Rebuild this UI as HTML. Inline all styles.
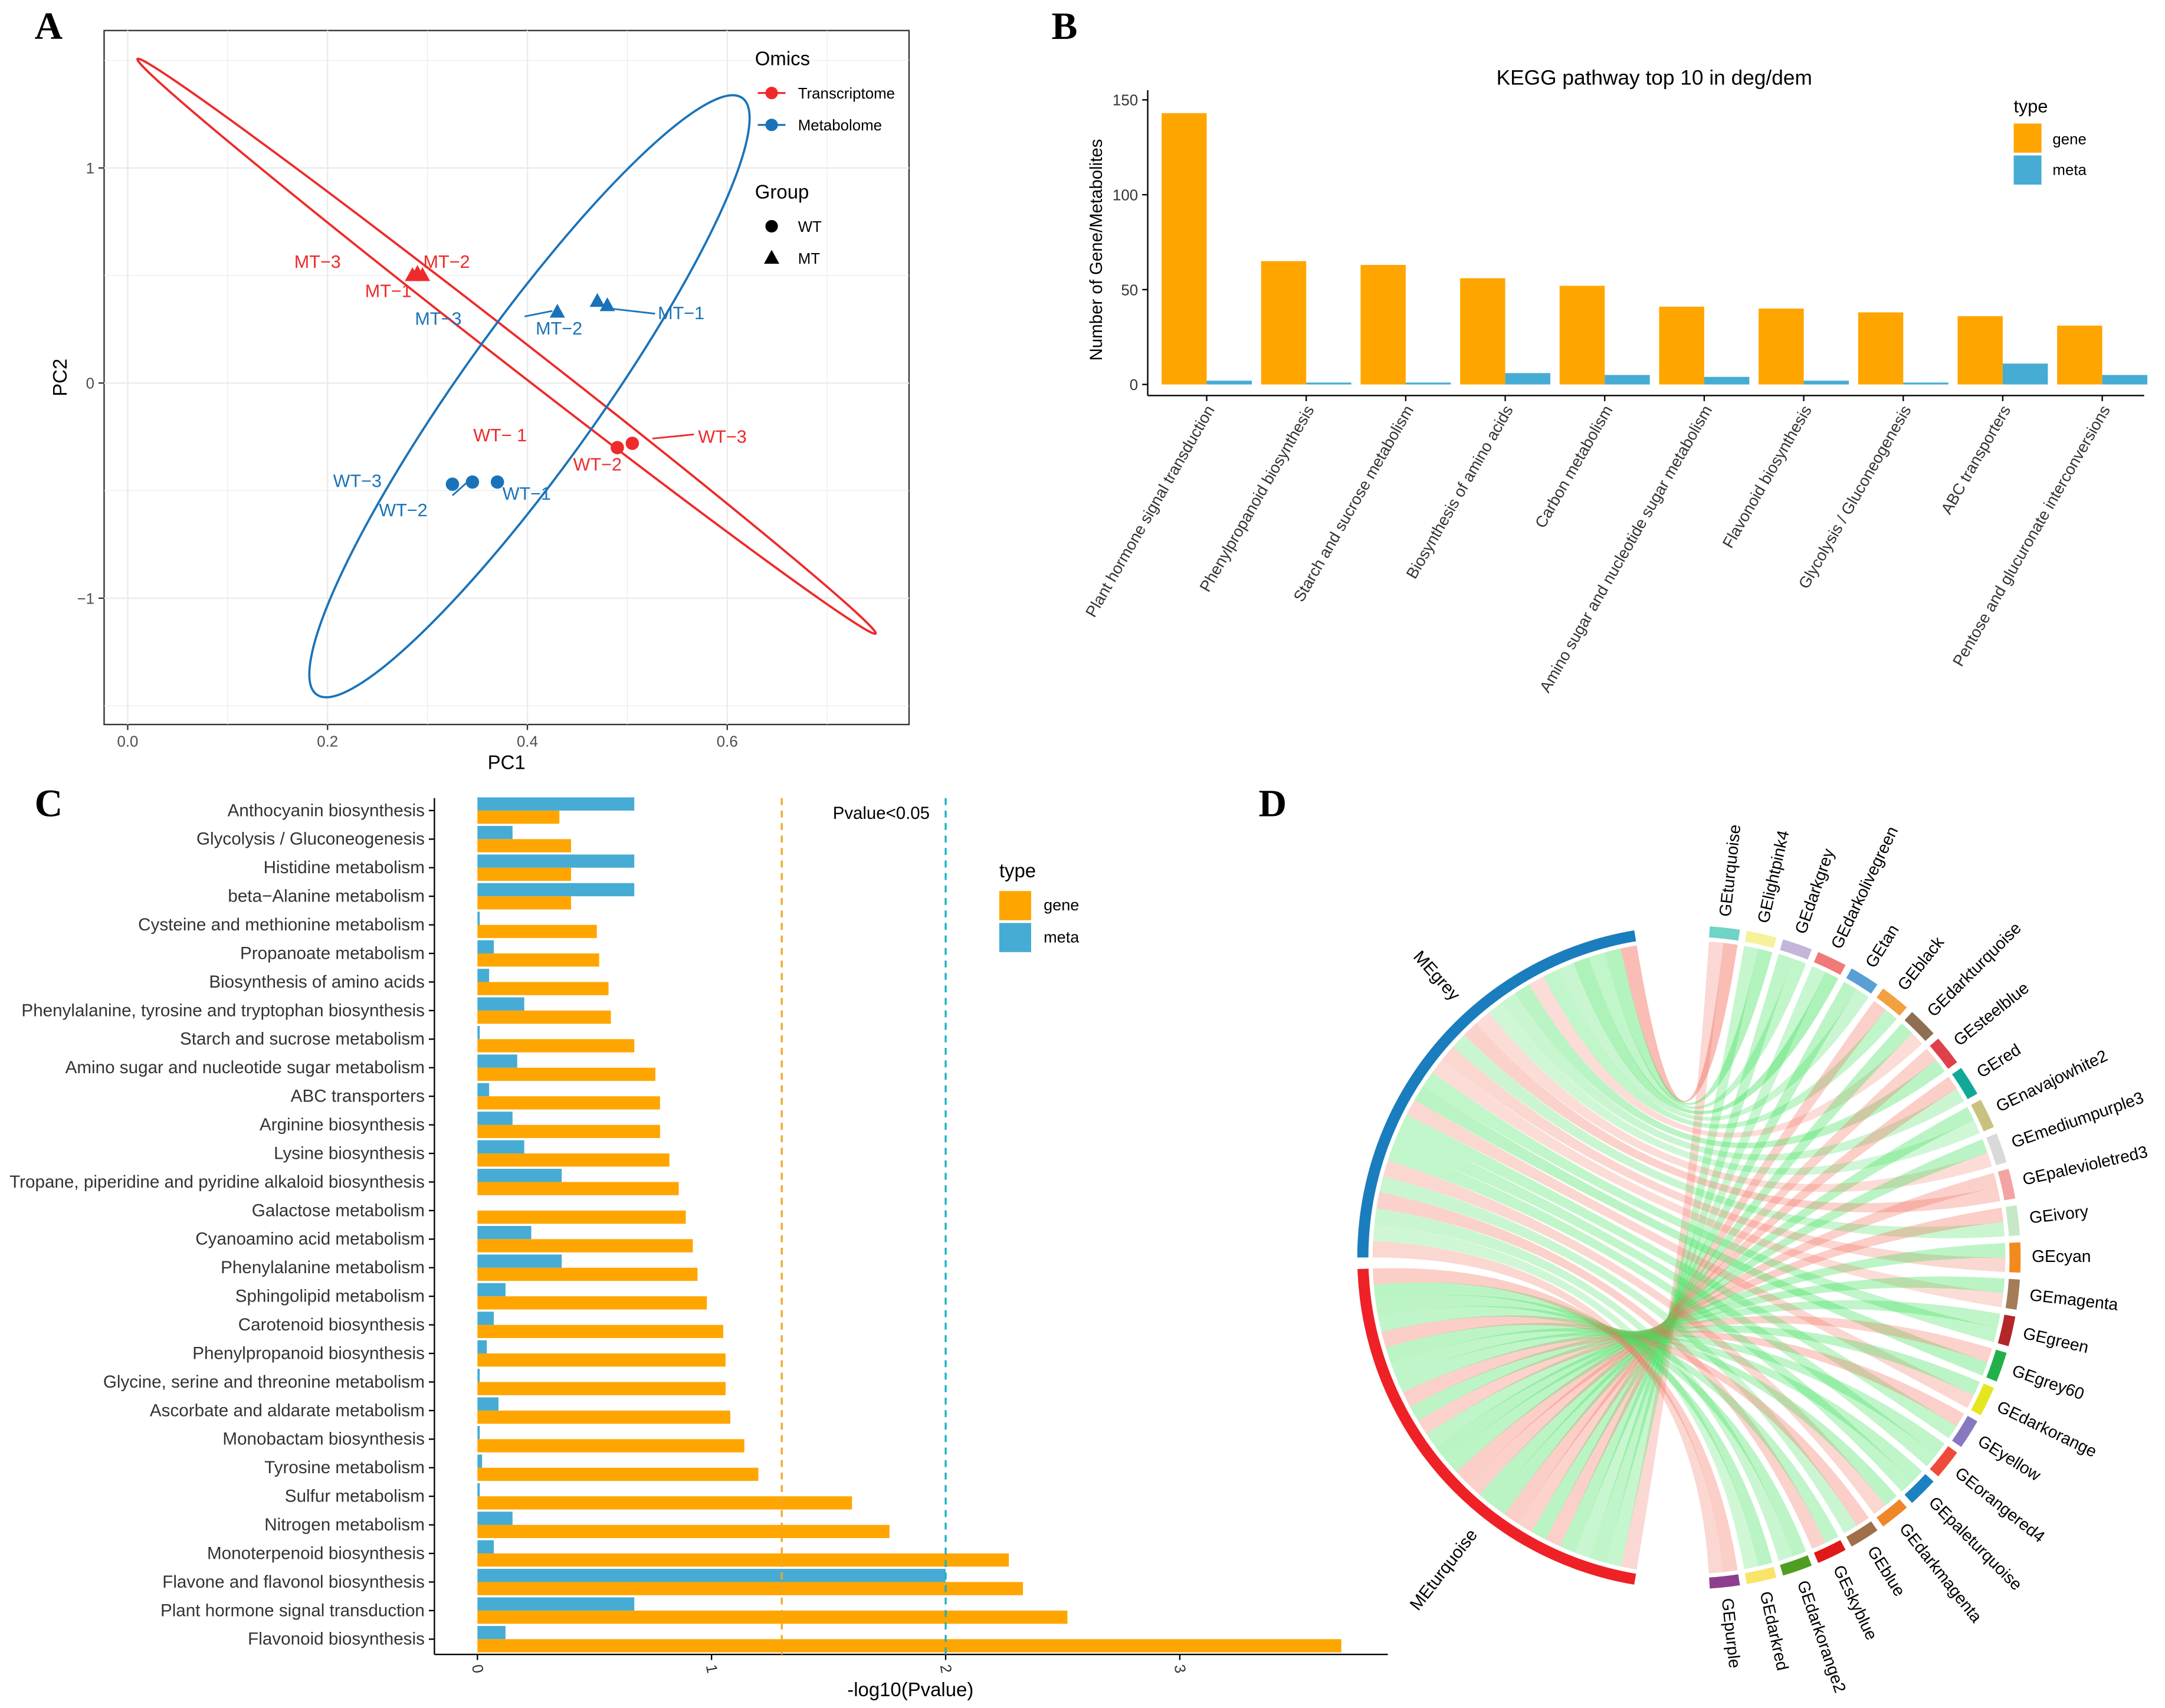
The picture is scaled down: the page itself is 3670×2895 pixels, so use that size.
<!DOCTYPE html>
<html><head><meta charset="utf-8"><style>
html,body{margin:0;padding:0;background:#fff}
svg{display:block;font-family:"Liberation Sans",sans-serif}
</style></head><body>
<svg id="fig" width="3670" height="2895" viewBox="0 0 1560 1230.6" xmlns="http://www.w3.org/2000/svg"></svg>
<script>
// ---------- Panel A data ----------
const pcaX=[0.285,0.29,0.295,0.49,0.505,0.43,0.47,0.48,0.325,0.345,0.37];
const pcaY=[0.5,0.51,0.5,-0.3,-0.28,0.33,0.38,0.36,-0.47,-0.46,-0.46];
const pcaOmics=["T","T","T","T","T","M","M","M","M","M","M"];
const pcaGroup=["MT","MT","MT","WT","WT","MT","MT","MT","WT","WT","WT"];
const pcaXTicks=[0,0.2,0.4,0.6];
const pcaYTicks=[-1,0,1];
// ---------- Panel B data ----------
const keggCats=["Plant hormone signal transduction","Phenylpropanoid biosynthesis","Starch and sucrose metabolism","Biosynthesis of amino acids","Carbon metabolism","Amino sugar and nucleotide sugar metabolism","Flavonoid biosynthesis","Glycolysis / Gluconeogenesis","ABC transporters","Pentose and glucuronate interconversions"];
const keggGene=[143,65,63,56,52,41,40,38,36,31];
const keggMeta=[2,1,1,6,5,4,2,1,11,5];
const keggTicks=[0,50,100,150];
// ---------- Panel C data ----------
const pCats=["Anthocyanin biosynthesis","Glycolysis / Gluconeogenesis","Histidine metabolism","beta\u2212Alanine metabolism","Cysteine and methionine metabolism","Propanoate metabolism","Biosynthesis of amino acids","Phenylalanine, tyrosine and tryptophan biosynthesis","Starch and sucrose metabolism","Amino sugar and nucleotide sugar metabolism","ABC transporters","Arginine biosynthesis","Lysine biosynthesis","Tropane, piperidine and pyridine alkaloid biosynthesis","Galactose metabolism","Cyanoamino acid metabolism","Phenylalanine metabolism","Sphingolipid metabolism","Carotenoid biosynthesis","Phenylpropanoid biosynthesis","Glycine, serine and threonine metabolism","Ascorbate and aldarate metabolism","Monobactam biosynthesis","Tyrosine metabolism","Sulfur metabolism","Nitrogen metabolism","Monoterpenoid biosynthesis","Flavone and flavonol biosynthesis","Plant hormone signal transduction","Flavonoid biosynthesis"];
const pGene=[0.35,0.4,0.4,0.4,0.51,0.52,0.56,0.57,0.67,0.76,0.78,0.78,0.82,0.86,0.89,0.92,0.94,0.98,1.05,1.06,1.06,1.08,1.14,1.2,1.6,1.76,2.27,2.33,2.52,3.69];
const pMeta=[0.67,0.15,0.67,0.67,0.01,0.07,0.05,0.2,0.01,0.17,0.05,0.15,0.2,0.36,0.0,0.23,0.36,0.12,0.07,0.04,0.01,0.09,0.01,0.02,0.01,0.15,0.07,2.0,0.67,0.12];
const pTicks=[0,1,2,3];
const pThresh=[1.3,2.0];
// ---------- Panel D data ----------
const geneMods=["GEturquoise","GElightpink4","GEdarkgrey","GEdarkolivegreen","GEtan","GEblack","GEdarkturquoise","GEsteelblue","GEred","GEnavajowhite2","GEmediumpurple3","GEpalevioletred3","GEivory","GEcyan","GEmagenta","GEgreen","GEgrey60","GEdarkorange","GEyellow","GEorangered4","GEpaleturquoise","GEdarkmagenta","GEblue","GEskyblue","GEdarkorange2","GEdarkred","GEpurple"];
const geneCols=["#6fd3c6","#f6f29a","#c3b6da","#f07a78","#5a9fd4","#f3a040","#8e6f52","#e0404a","#12a898","#c9c27e","#d9d9d9","#f4a2a2","#c6e8c6","#f28a1e","#a47c58","#b3262a","#22b04a","#e6e620","#8878c0","#f04a3a","#1d80c0","#f08628","#a06e48","#e01818","#4e9e22","#f8e468","#8e3e8e"];
const linkGrey=["r","g","g","g","g","g","r","g","g","g","r","r","g","r","r","g","g","r","g","g","g","r","g","r","g","g","r"];
const linkTurq=["r","g","g","g","g","r","g","r","r","g","g","r","r","g","g","g","r","g","r","g","g","g","r","g","g","g","r"];
const linkStrength=[0.9,0.7,0.5,0.8,0.4,0.5,0.3,0.6,0.4,0.3,0.3,0.5,0.4,0.4,0.3,0.5,0.6,0.4,0.5,0.5,0.5,0.4,0.4,0.5,0.4,0.3,0.4];

const NS="http://www.w3.org/2000/svg";
const svg=document.getElementById("fig");
function mk(tag,attrs,parent,txt){const e=document.createElementNS(NS,tag);for(const k in attrs)e.setAttribute(k,attrs[k]);if(txt!==undefined)e.textContent=txt;(parent||svg).appendChild(e);return e;}
function grp(name){const g=mk("g",{});


return g;}

[["A",35,28],["B",767,28],["C",35,588],["D",917,588]].forEach(l=>{
const t=mk("text",{x:l[1],y:l[2],"font-family":"Liberation Serif,serif","font-weight":"bold","font-size":28,"text-anchor":"middle"},svg,l[0]);


});

// ================= Panel A =================
(function(){
const g=grp("panel-a-pca");
const L=75,R=655,T=22,B=522;
const sx=v=>92+v*720, sy=v=>276-v*155;
const bg=mk("rect",{x:L,y:T,width:R-L,height:B-T,fill:"#fff",stroke:"#333","stroke-width":1},g);


for(let v=-0.1;v<=0.75;v+=0.1){const x=sx(v);if(x<L||x>R)continue;const major=Math.abs(Math.round(v*10)%2)===0;mk("line",{x1:x,x2:x,y1:T,y2:B,stroke:"#ebebeb","stroke-width":major?1:0.5},g);}
for(let v=-1.5;v<=1.5;v+=0.5){const y=sy(v);if(y<T||y>B)continue;mk("line",{x1:L,x2:R,y1:y,y2:y,stroke:"#ebebeb","stroke-width":Number.isInteger(v)?1:0.5},g);}
pcaXTicks.forEach(v=>{const x=sx(v);mk("line",{x1:x,x2:x,y1:B,y2:B+4,stroke:"#333"},g);
const t=mk("text",{x:x,y:B+16,"font-size":11,"text-anchor":"middle",fill:"#4d4d4d"},g,v.toFixed(1));

});
pcaYTicks.forEach(v=>{const y=sy(v);mk("line",{x1:L-4,x2:L,y1:y,y2:y,stroke:"#333"},g);
const t=mk("text",{x:L-7,y:y+4,"font-size":11,"text-anchor":"end",fill:"#4d4d4d"},g,v===-1?"\u22121":String(v));

});
const xl=mk("text",{x:365,y:554,"font-size":14,"text-anchor":"middle"},g,"PC1");


const yl=mk("text",{x:48,y:272,"font-size":14,"text-anchor":"middle",transform:"rotate(-90 48 272)"},g,"PC2");


const e1=mk("ellipse",{cx:365,cy:249.5,rx:337,ry:10,fill:"none",stroke:"#ee2a2a","stroke-width":1.6,transform:"rotate(37.9 365 249.5)"},g);


const e2=mk("ellipse",{cx:381.5,cy:285.5,rx:264,ry:50,fill:"none",stroke:"#1a73b8","stroke-width":1.6,transform:"rotate(-54.5 381.5 285.5)"},g);


pcaX.forEach((v,i)=>{const x=sx(v),y=sy(pcaY[i]);const c=pcaOmics[i]==="T"?"#ee2a2a":"#1a73b8";let p;
if(pcaGroup[i]==="MT")p=mk("polygon",{points:`${x},${y-6} ${x-5.5},${y+4} ${x+5.5},${y+4}`,fill:c},g);
else p=mk("circle",{cx:x,cy:y,r:4.8,fill:c},g);

});
const labs=[["MT\u22123",212,193,"#ee2a2a"],["MT\u22122",305,193,"#ee2a2a"],["MT\u22121",263,214,"#ee2a2a"],["WT\u2212 1",341,318,"#ee2a2a"],["WT\u22122",413,339,"#ee2a2a"],["WT\u22123",503,319,"#ee2a2a"],["MT\u22123",299,234,"#1a73b8"],["MT\u22122",386,241,"#1a73b8"],["MT\u22121",474,230,"#1a73b8"],["WT\u22123",240,351,"#1a73b8"],["WT\u22122",273,372,"#1a73b8"],["WT\u22121",362,360,"#1a73b8"]];
labs.forEach(l=>{const t=mk("text",{x:l[1],y:l[2],"font-size":13,fill:l[3]},g,l[0]);

});
[[470,316,500,313,"#ee2a2a"],[437,222,472,226,"#1a73b8"],[378,228,398,224,"#1a73b8"],[326,357,336,348,"#1a73b8"]].forEach(s=>mk("line",{x1:s[0],y1:s[1],x2:s[2],y2:s[3],stroke:s[4],"stroke-width":1.2},g));
const lg=grp("pca-legend");g.appendChild(lg);
mk("text",{x:544,y:47,"font-size":14},lg,"Omics");
mk("line",{x1:546,x2:566,y1:67,y2:67,stroke:"#ee2a2a","stroke-width":1.4},lg);mk("circle",{cx:556,cy:67,r:4.5,fill:"#ee2a2a"},lg);
mk("text",{x:575,y:71,"font-size":11},lg,"Transcriptome");
mk("line",{x1:546,x2:566,y1:90,y2:90,stroke:"#1a73b8","stroke-width":1.4},lg);mk("circle",{cx:556,cy:90,r:4.5,fill:"#1a73b8"},lg);
mk("text",{x:575,y:94,"font-size":11},lg,"Metabolome");
mk("text",{x:544,y:143,"font-size":14},lg,"Group");
mk("circle",{cx:556,cy:163,r:4.5,fill:"#000"},lg);mk("text",{x:575,y:167,"font-size":11},lg,"WT");
mk("polygon",{points:"556,180 550.5,190 561.5,190",fill:"#000"},lg);mk("text",{x:575,y:190,"font-size":11},lg,"MT");
})();

// ================= Panel B =================
(function(){
const g=grp("panel-b-kegg-bars");
const L=827,R=1545,T=65,B=285;
const sy=v=>277-v*1.367;
const t=mk("text",{x:1192,y:61,"font-size":15,"text-anchor":"middle"},g,"KEGG pathway top 10 in deg/dem");


mk("line",{x1:L,x2:L,y1:T,y2:B,stroke:"#000","stroke-width":1},g);
mk("line",{x1:L,x2:R,y1:B,y2:B,stroke:"#000","stroke-width":1},g);
keggTicks.forEach(v=>{const y=sy(v);mk("line",{x1:L-4,x2:L,y1:y,y2:y,stroke:"#000"},g);
const tt=mk("text",{x:L-7,y:y+4,"font-size":11,"text-anchor":"end",fill:"#333"},g,String(v));

});
const yl=mk("text",{x:794,y:180,"font-size":12.5,"text-anchor":"middle",transform:"rotate(-90 794 180)"},g,"Number of Gene/Metabolites");


const step=71.7,bw=32.5;
keggCats.forEach((c,i)=>{const cx=869.5+i*step;
const b1=mk("rect",{x:cx-bw,y:sy(keggGene[i]),width:bw,height:sy(0)-sy(keggGene[i]),fill:"#ffa500"},g);


const b2=mk("rect",{x:cx,y:sy(keggMeta[i]),width:bw,height:sy(0)-sy(keggMeta[i]),fill:"#46acd4"},g);


mk("line",{x1:cx,x2:cx,y1:B,y2:B+4,stroke:"#000"},g);
const tl=mk("text",{x:cx+6,y:B+10,"font-size":11.5,"text-anchor":"end",fill:"#333",transform:`rotate(-60 ${cx+6} ${B+10})`},g,c);

});
const lg=grp("kegg-legend");g.appendChild(lg);
mk("text",{x:1451,y:81,"font-size":13},lg,"type");
mk("rect",{x:1451,y:89,width:20,height:21,fill:"#ffa500"},lg);mk("text",{x:1479,y:104,"font-size":11},lg,"gene");
mk("rect",{x:1451,y:112,width:20,height:21,fill:"#46acd4"},lg);mk("text",{x:1479,y:126,"font-size":11},lg,"meta");
})();

// ================= Panel C =================
(function(){
const g=grp("panel-c-pvalue-bars");
const L=313,R=1000,T=575,B=1192;
const sx=v=>344+v*168.7;
mk("line",{x1:L,x2:L,y1:T,y2:B,stroke:"#000"},g);
mk("line",{x1:L,x2:R,y1:B,y2:B,stroke:"#000"},g);
const step=(1181-584)/29, bh=9.5;
pCats.forEach((c,i)=>{const cy=584+i*step;
const m=mk("rect",{x:sx(0),y:cy-bh,width:sx(pMeta[i])-sx(0),height:bh,fill:"#46acd4"},g);


const ge=mk("rect",{x:sx(0),y:cy,width:sx(pGene[i])-sx(0),height:bh,fill:"#ffa500"},g);


mk("line",{x1:L-4,x2:L,y1:cy,y2:cy,stroke:"#000"},g);
const t=mk("text",{x:L-7,y:cy+4,"font-size":12.6,"text-anchor":"end",fill:"#333"},g,c);

});
pTicks.forEach(v=>{const x=sx(v);mk("line",{x1:x,x2:x,y1:B,y2:B+4,stroke:"#000"},g);
const t=mk("text",{x:x-4,y:B+8,"font-size":11,fill:"#333",transform:`rotate(80 ${x-4} ${B+8})`},g,String(v));

});
const cols=["#f5a623","#19b0c4"];
pThresh.forEach((v,i)=>{const l=mk("line",{x1:sx(v),x2:sx(v),y1:T,y2:B,stroke:cols[i],"stroke-width":1.4,"stroke-dasharray":"5 4"},g);

});
const pv=mk("text",{x:635,y:590,"font-size":12.5,"text-anchor":"middle"},g,"Pvalue<0.05");


const xl=mk("text",{x:656,y:1222,"font-size":14,"text-anchor":"middle"},g,"-log10(Pvalue)");


const lg=grp("pvalue-legend");g.appendChild(lg);
mk("text",{x:720,y:632,"font-size":14},lg,"type");
mk("rect",{x:720,y:642,width:23,height:21,fill:"#ffa500"},lg);mk("text",{x:752,y:656,"font-size":11.5},lg,"gene");
mk("rect",{x:720,y:665,width:23,height:21,fill:"#46acd4"},lg);mk("text",{x:752,y:679,"font-size":11.5},lg,"meta");
})();

// ================= Panel D =================
(function(){
const g=grp("panel-d-chord");
const CX=1217,CY=906,RO=237,RI=228;
const pt=(a,r)=>{const t=a*Math.PI/180;return [CX+r*Math.sin(t),CY-r*Math.cos(t)];};
function arcPath(a0,a1,r0,r1){const p0=pt(a0,r1),p1=pt(a1,r1),p2=pt(a1,r0),p3=pt(a0,r0);const lg=(a1-a0)>180?1:0;
return `M${p0} A${r1},${r1} 0 ${lg} 1 ${p1} L${p2} A${r0},${r0} 0 ${lg} 0 ${p3} Z`;}
const N=geneMods.length, gStart=3, gEnd=177, seg=(gEnd-gStart)/N, gap=1.2;
const greyA=[270,350.5], turqA=[189.5,268];
const ribbons=grp("chord-ribbons");g.appendChild(ribbons);
function ribbon(s0,s1,t0,t1,col,op){const a=pt(s0,RI),b=pt(s1,RI),c=pt(t0,RI),d=pt(t1,RI);
const p=`M${a} A${RI},${RI} 0 0 1 ${b} Q${CX},${CY} ${c} A${RI},${RI} 0 0 1 ${d} Q${CX},${CY} ${a} Z`;
const e=mk("path",{d:p,fill:col,"fill-opacity":op},ribbons);

}
const gw=(greyA[1]-greyA[0])/N, tw=(turqA[1]-turqA[0])/N;
for(let i=0;i<N;i++){const a0=gStart+i*seg+gap/2, a1=a0+seg-gap, mid=(a0+a1)/2;
const s=linkStrength[i];
const gs0=greyA[1]-(i+1)*gw, gs1=gs0+gw;
ribbon(gs0,gs1,mid,a1,linkGrey[i]==="g"?"#3ee05a":"#f2705f",0.14+0.36*s);
const ts0=turqA[0]+i*tw, ts1=ts0+tw;
ribbon(ts0,ts1,a0,mid,linkTurq[i]==="g"?"#3ee05a":"#f2705f",0.12+0.28*(1-s*0.5));
}
const m1=mk("path",{d:arcPath(greyA[0],greyA[1],RI+3,RO+2),fill:"#1a7dbd"},g);


const m2=mk("path",{d:arcPath(turqA[0],turqA[1],RI+3,RO+2),fill:"#ee2127"},g);


[["MEgrey",318],["MEturquoise",218]].forEach(m=>{const p=pt(m[1],RO+14);
const t=mk("text",{x:p[0],y:p[1],"font-size":12.5,"text-anchor":"end","dominant-baseline":"middle",transform:`rotate(${m[1]-270} ${p[0]} ${p[1]})`},g,m[0]);

});
geneMods.forEach((n,i)=>{const a0=gStart+i*seg+gap/2, a1=a0+seg-gap;
const s=mk("path",{d:arcPath(a0,a1,RI+3,RO+2),fill:geneCols[i]},g);


const mid=(a0+a1)/2, p=pt(mid,RO+10);
const t=mk("text",{x:p[0],y:p[1],"font-size":12,"dominant-baseline":"middle",transform:`rotate(${mid-90} ${p[0]} ${p[1]})`},g,n);

});
})();
</script>
</body></html>
